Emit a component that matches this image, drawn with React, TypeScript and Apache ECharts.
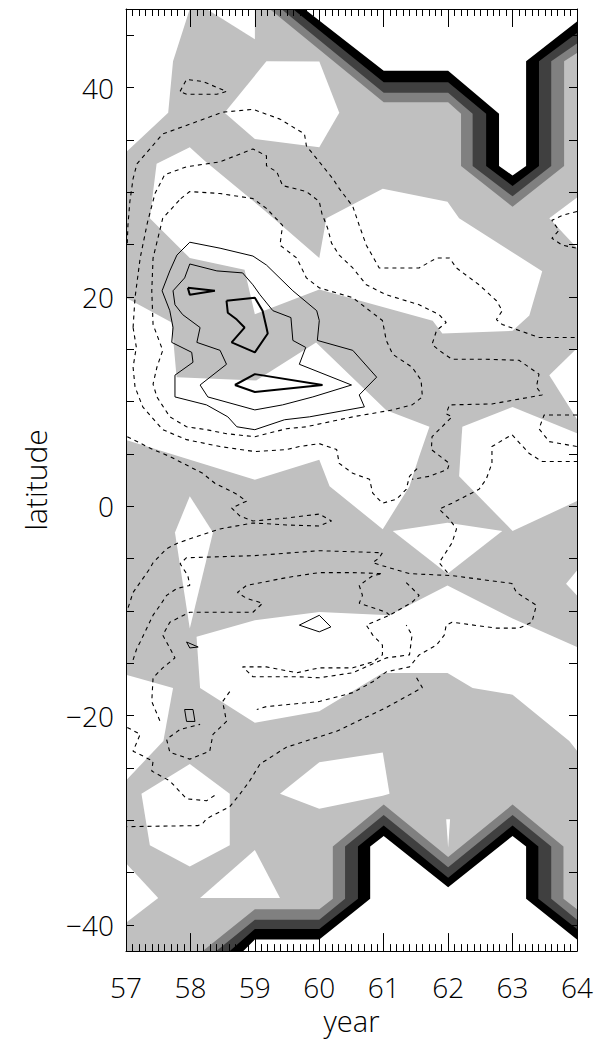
import React, { useEffect, useRef } from "react";
import * as echarts from "echarts";

// ---------- axes ----------
const YEAR_MIN = 57;
const YEAR_MAX = 64;
const LAT_MIN = -42.5;
const LAT_MAX = 47.5;
const LAT_TICKS = [-40, -35, -30, -25, -20, -15, -10, -5, 0, 5, 10, 15, 20, 25, 30, 35, 40, 45];
const LAT_LABELS = [-40, -20, 0, 20, 40];

// ---------- shading: white regions on light grey ----------
const W1 = [[57, 47.5], [57.99, 47.5], [57.73, 42.5], [57.655, 37.6], [57, 33.82]];
const W2 = [[58.25, 47.5], [59, 47.5], [59, 44.6]];
const W3 = [[59.18, 42.5], [60.0, 42.48], [60.31, 37.6], [60.0, 34.3], [59.0, 35.08], [58.53, 37.6]];
const WB = [[57.99, 34.3], [58.22, 33.0], [59.15, 28.26], [60.0, 23.71], [60.11, 27.5], [60.985, 30.34], [61.99, 29.08], [62.17, 27.5], [63.46, 22.45], [63.26, 18.21], [63.0, 16.76], [61.91, 16.5], [61.76, 17.71], [60.0, 20.7], [59.0, 18.33], [58.84, 22.6], [57.99, 23.71], [57.37, 27.5], [57.475, 32.71]];
const W5B = [[63.57, 27.5], [64, 29.5], [64, 24.66]];
const W6 = [[57, 19.92], [57.71, 17.55], [57.785, 12.33], [59.02, 12.02], [59.95, 15.65], [61.04, 9.18], [61.71, 7.59], [61.55, 4.75], [61.4, 1.91], [60.985, -2.2], [60.16, 1.91], [60.0, 4.44], [59.0, 2.54], [57, 6.33]];
const W8 = [[62.22, 7.59], [63.0, 9.49], [64, 6.96], [64, 0.49], [63.0, -2.36], [62.17, 2.86]];
const WRT = [[63.57, 12.5], [64, 15.1], [64, 8.3]];
const W9 = [[61.14, -2.36], [61.99, -1.57], [62.84, -2.36], [61.99, -6.46]];
const WNEEDLE = [[57.99, 0.96], [58.35, -2.52], [57.99, -11.68], [57.76, -2.52]];
const WRN = [[63.83, -7.41], [64, -6.15], [64, -8.52]];
const W10 = [[58.095, -12.47], [59.0, -10.89], [60.0, -10.1], [61.09, -10.42], [61.99, -7.57], [63.0, -10.73], [64, -13.45], [64, -23.37], [63.88, -22.42], [63.0, -18.0], [62.38, -17.36], [61.99, -15.94], [60.985, -15.94], [60.0, -19.58], [59.0, -20.68], [58.15, -17.36]];
const W11 = [[57, -16.1], [57.73, -17.36], [57.58, -22.42], [57, -26.21]];
const W12 = [[57.99, -24.63], [58.61, -27.48], [58.61, -32.38], [57.99, -34.42], [57.37, -32.38], [57.24, -27.48]];
const W13 = [[59.39, -27.48], [60.0, -24.47], [60.985, -23.52], [61.09, -27.48], [60.985, -27.67], [60.0, -28.9]];
const W14 = [[59.0, -32.85], [59.39, -37.43], [58.15, -37.43]];
const W15 = [[57, -34.11], [57.5, -37.43], [57, -39.8]];
const WHITE_REGIONS = [W1, W2, W3, WB, W5B, W6, W8, WRT, W9, WNEEDLE, WRN, W10, W11, W12, W13, W14, W15];

// ---------- polar bands (filled levels) ----------
const TOP_CORNER = [64, 47.5];
const TOP_B0 = [[59.23, 47.5], [61.0, 38.6], [62.0, 38.6], [62.2, 37.5], [62.2, 32.5], [63.0, 28.6], [63.8, 32.5], [63.8, 42.5], [64, 43.3]];
const TOP_B1 = [[59.41, 47.5], [61.0, 39.5], [62.0, 39.5], [62.38, 37.5], [62.38, 32.5], [63.0, 29.6], [63.6, 32.5], [63.6, 42.5], [64, 44.2]];
const TOP_B2 = [[59.59, 47.5], [61.0, 40.5], [62.0, 40.5], [62.59, 37.5], [62.59, 32.5], [63.0, 30.6], [63.41, 32.5], [63.41, 42.5], [64, 45.2]];
const TOP_B3 = [[59.77, 47.5], [61.0, 41.6], [62.0, 41.6], [62.79, 37.5], [62.79, 32.5], [63.0, 31.6], [63.21, 32.5], [63.21, 42.5], [64, 46.3]];
const BOT_CORNER = [64, -42.5];
const BOT_B0 = [[58.19, -42.5], [59.0, -38.5], [60.0, -38.5], [60.21, -37.5], [60.21, -32.5], [61.0, -28.5], [62.0, -33.5], [63.0, -28.5], [63.79, -32.5], [63.79, -37.5], [64, -38.5]];
const BOT_B1 = [[58.4, -42.5], [59.0, -39.5], [60.0, -39.5], [60.4, -37.5], [60.4, -32.5], [61.0, -29.5], [62.0, -34.5], [63.0, -29.5], [63.6, -32.5], [63.6, -37.5], [64, -39.5]];
const BOT_B2 = [[58.61, -42.5], [59.0, -40.4], [60.0, -40.4], [60.6, -37.5], [60.6, -32.5], [61.0, -30.5], [62.0, -35.5], [63.0, -30.5], [63.4, -32.5], [63.4, -37.5], [64, -40.4]];
const BOT_B3 = [[58.82, -42.5], [59.0, -41.4], [60.0, -41.4], [60.79, -37.5], [60.79, -32.5], [61.0, -31.5], [62.0, -36.4], [63.0, -31.5], [63.21, -32.5], [63.21, -37.5], [64, -41.4]];
const SPIKE = [[61.97, -29.9], [62.03, -29.9], [62.0, -32.6]];
const LEVEL_COLORS = ["#808080", "#404040", "#000000", "#ffffff"];

// ---------- solid contours ----------
const S1 = [[57.99, 25.22], [58.46, 24.65], [58.97, 23.9], [59.18, 23.04], [59.59, 20.58], [59.96, 18.68], [60.0, 17.74], [59.97, 15.84], [60.52, 14.89], [60.89, 12.33], [60.62, 10.63], [60.7, 9.49], [59.85, 8.54], [59.46, 8.26], [59.0, 7.31], [58.72, 7.59], [58.58, 8.54], [58.25, 9.68], [57.76, 10.44], [57.76, 12.52], [58.04, 13.75], [58.02, 14.7], [57.71, 15.65], [57.73, 17.07], [57.68, 18.68], [57.56, 20.58], [57.68, 22.48], [57.79, 23.99]];
const S2 = [[57.99, 23.14], [58.41, 22.48], [58.81, 22.29], [58.97, 21.15], [59.08, 20.2], [59.28, 18.68], [59.56, 18.02], [59.59, 15.84], [59.79, 15.17], [59.69, 13.56], [60.5, 11.58], [59.9, 10.44], [59.43, 9.68], [59.0, 9.2], [58.27, 10.44], [58.15, 11.58], [58.56, 13.56], [58.46, 14.89], [58.1, 15.65], [58.15, 17.07], [57.88, 18.3], [57.76, 19.25], [57.73, 20.58], [57.91, 21.81]];
const T1 = [[57.96, 20.86], [58.38, 20.58], [57.99, 20.2]];
const T2 = [[58.56, 19.63], [59.0, 19.92], [59.12, 18.68], [59.18, 17.07], [59.2, 16.5], [59.0, 14.7], [58.64, 15.65], [58.84, 17.07], [58.72, 17.83], [58.58, 18.49]];
const T3 = [[58.69, 11.58], [59.0, 12.62], [60.05, 11.58], [59.0, 10.91]];
const P1 = [[60.0, -10.42], [60.18, -11.53], [60.0, -12.0], [59.69, -11.36]];
const P2 = [[57.94, -12.97], [58.12, -13.45], [57.99, -13.54]];
const P3 = [[57.91, -19.42], [58.04, -19.42], [58.07, -20.56], [57.94, -20.56]];

// ---------- dashed contours ----------
const DA = [[57.84, 39.63], [57.94, 40.77], [58.19, 40.58], [58.56, 39.63], [58.41, 39.35], [57.94, 39.35], [57.84, 39.63]];
const DB = [[57.02, 25.13], [57.03, 26.83], [57.06, 29.11], [57.11, 31.29], [57.17, 32.71], [57.57, 35.56], [58.5, 37.64], [58.97, 37.92], [59.39, 36.98], [59.77, 35.56], [59.8, 34.42], [60.05, 32.52], [60.21, 31.29], [60.31, 30.34], [60.52, 28.64], [60.62, 26.83], [60.73, 24.94], [60.93, 22.76], [61.55, 22.76], [61.82, 23.71], [62.02, 23.71], [62.13, 22.76], [62.48, 21.15], [62.75, 19.63], [62.84, 18.68], [62.75, 17.83], [62.84, 17.36], [63.41, 16.12], [64.0, 16.12]];
const DC = [[57.11, 17.07], [57.14, 19.92], [57.22, 23.71], [57.33, 27.03], [57.45, 29.87], [57.6, 31.67], [57.94, 32.43], [58.46, 32.9], [58.97, 34.13], [59.18, 33.47], [59.18, 32.52], [59.34, 31.95], [59.43, 30.63], [59.8, 30.06], [60.0, 29.11], [60.04, 27.97], [60.13, 26.55], [60.19, 25.13], [60.31, 23.99], [60.52, 22.76], [60.73, 21.15], [61.04, 20.2], [61.55, 19.25], [61.86, 18.3], [61.97, 17.55], [61.82, 16.79], [61.75, 15.46], [61.86, 14.89], [62.06, 14.04], [62.59, 14.04], [63.1, 13.94], [63.41, 12.62], [63.37, 11.39], [63.46, 10.63], [62.68, 9.77], [62.02, 9.68], [61.97, 8.82], [62.06, 8.54], [61.75, 6.64], [61.74, 5.41], [62.02, 4.09], [61.99, 3.52], [61.71, 2.86], [61.44, 2.57]];
const DD = [[57.85, 29.39], [57.99, 30.06], [58.46, 29.87], [58.97, 29.39], [59.18, 28.45], [59.43, 26.83], [59.39, 24.94], [59.65, 23.71], [59.8, 21.81], [60.0, 20.86], [60.52, 19.92], [60.98, 17.74], [61.04, 15.84], [61.14, 14.51], [61.44, 13.28], [61.58, 12.05], [61.6, 10.44], [61.44, 9.68], [61.14, 9.2], [60.52, 8.54], [59.8, 7.59], [59.49, 7.4], [59.0, 6.64], [58.56, 6.93], [58.25, 7.31], [57.94, 7.59], [57.68, 8.54], [57.48, 10.44], [57.42, 11.67], [57.48, 13.28], [57.57, 14.89], [57.42, 17.36], [57.4, 20.58], [57.42, 23.71], [57.57, 27.5], [57.85, 29.39]];
const DE = [[57.11, 17.07], [57.16, 15.2], [57.11, 13.28], [57.14, 11.39], [57.26, 9.49], [57.57, 7.31], [57.94, 6.36], [58.46, 5.7], [59.0, 5.22], [59.49, 5.41], [59.69, 5.7], [60.0, 5.98], [60.27, 5.41], [60.31, 4.09], [60.52, 3.14], [60.78, 2.57], [60.83, 1.24], [60.98, 0.29], [61.2, 0.67], [61.35, 1.62], [61.4, 2.86], [61.55, 3.8]];
const DF = [[57.02, 6.64], [57.42, 5.41], [57.68, 4.75], [58.19, 3.14], [58.38, 2.19], [58.72, 1.15], [58.87, 0.48], [58.64, -0.18], [58.77, -0.94], [58.97, -1.41], [59.49, -1.13], [60.0, -0.75], [60.19, -1.41], [60.0, -1.89], [59.49, -1.79], [58.97, -1.6], [58.46, -2.17], [58.04, -3.02], [57.81, -3.5], [57.63, -4.06], [57.42, -5.4], [57.37, -5.96], [57.11, -8.24], [57.03, -9.75]];
const DG = [[57.11, -14.68], [57.17, -13.54], [57.22, -12.97], [57.42, -10.41], [57.53, -9.46], [57.63, -8.52], [57.79, -7.86], [57.99, -7.57], [57.96, -6.63], [57.84, -5.49], [57.94, -4.92], [58.97, -4.73], [60.0, -4.25], [60.98, -4.44], [60.93, -4.92], [60.83, -5.4], [60.98, -5.68], [61.4, -6.44], [62.06, -6.63], [62.99, -7.38], [63.06, -8.24], [63.37, -9.46], [63.3, -11.08], [63.1, -11.65], [62.75, -11.65], [62.06, -11.08], [61.97, -11.36], [61.94, -12.31], [61.82, -13.26], [61.55, -14.2], [61.4, -15.35], [61.04, -15.82], [60.83, -16.77], [60.52, -17.81], [60.0, -18.66], [59.18, -19.14], [59.03, -19.42]];
const DI = [[61.09, -10.41], [61.04, -10.13], [60.62, -9.27], [60.67, -8.52], [60.62, -7.57], [60.83, -6.63], [60.98, -6.44], [60.52, -6.34], [60.0, -6.34], [59.49, -6.82], [58.87, -7.57], [58.73, -8.24], [58.87, -8.8], [59.12, -9.27], [58.97, -10.13], [57.99, -10.13], [57.68, -11.08], [57.57, -12.31], [57.68, -13.54], [57.76, -14.49], [57.57, -15.44], [57.42, -16.39], [57.4, -18.66], [57.53, -20.56]];
const DJ = [[61.35, -7.29], [61.55, -8.52], [61.44, -9.18], [61.09, -10.41], [60.73, -11.36], [60.83, -12.31], [60.98, -13.26], [60.98, -14.2], [60.83, -14.87], [60.52, -15.44], [60.0, -15.44], [59.65, -15.91], [59.18, -15.35], [58.81, -15.35], [58.97, -16.29], [59.65, -16.29], [60.0, -16.39], [60.52, -15.91], [61.04, -14.49], [61.4, -14.2], [61.44, -12.31], [61.35, -11.36]];
const DK = [[61.51, -16.39], [61.6, -17.33], [61.04, -19.23], [60.27, -21.5], [59.49, -23.02], [59.08, -24.63], [58.92, -26.24], [58.77, -27.48], [58.61, -28.71], [58.25, -29.85], [58.19, -30.32], [58.12, -30.51], [57.02, -30.61]];
const DL = [[58.61, -17.71], [58.5, -18.66], [58.56, -20.56], [58.35, -21.79], [58.3, -23.4], [57.99, -24.16], [57.68, -23.5], [57.63, -22.26], [57.84, -21.32], [58.15, -20.84]];
const DM = [[57.02, -21.13], [57.22, -21.79], [57.11, -23.4], [57.42, -24.35], [57.4, -25.3], [57.68, -26.24], [57.94, -27.95], [58.25, -28.14], [58.41, -27.48]];
const DO = [[64, 28.16], [63.77, 27.78], [63.61, 27.31], [63.72, 26.36], [63.61, 25.6], [63.77, 24.94], [64, 24.65]];
const DP = [[64, 8.72], [63.49, 8.72], [63.41, 7.4], [63.57, 6.17], [64, 5.7]];
const DQ = [[61.99, -6.34], [61.86, -5.4], [62.06, -3.5], [62.13, -2.17], [62.02, -1.23], [61.86, -0.28], [62.06, 0.29], [62.48, 1.62], [62.59, 2.57], [62.68, 4.09], [62.68, 5.7], [62.99, 6.84], [63.26, 5.03], [63.46, 4.27], [64, 4.27]];
const DASHED = [DA, DB, DC, DD, DE, DF, DG, DI, DJ, DK, DL, DM, DO, DP, DQ];

const FONT = "'Open Sans', 'Liberation Sans', Arial, sans-serif";

function close(pts: number[][]) {
  return [...pts, pts[0]];
}

function polygonSeries(polys: number[][][], fills: string[]) {
  return {
    type: "custom",
    coordinateSystem: "cartesian2d",
    xAxisIndex: 0,
    yAxisIndex: 0,
    silent: true,
    clip: true,
    z: 2,
    data: polys.map((p) => [p[0][0], p[0][1]]),
    encode: { x: 0, y: 1 },
    renderItem: (params: any, api: any) => ({
      type: "polygon",
      shape: { points: polys[params.dataIndex].map((pt) => api.coord(pt)) },
      style: { fill: fills[params.dataIndex], stroke: null },
    }),
  };
}

function lineSeries(pts: number[][], style: any) {
  return {
    type: "line",
    xAxisIndex: 0,
    yAxisIndex: 0,
    data: pts,
    showSymbol: false,
    symbol: "none",
    silent: true,
    clip: true,
    z: 4,
    lineStyle: style,
  };
}

export default function App() {
  const ref = useRef<HTMLDivElement>(null);
  useEffect(() => {
    document.body.style.margin = "0";
    if (!ref.current) return;
    const chart = echarts.init(ref.current, undefined, { renderer: "svg" });

    const bandPolys = [
      [...TOP_B0, TOP_CORNER], [...TOP_B1, TOP_CORNER], [...TOP_B2, TOP_CORNER], [...TOP_B3, TOP_CORNER],
      [...BOT_B0, BOT_CORNER], [...BOT_B1, BOT_CORNER], [...BOT_B2, BOT_CORNER], [...BOT_B3, BOT_CORNER],
      SPIKE,
    ];
    const bandFills = [...LEVEL_COLORS, ...LEVEL_COLORS, "#ffffff"];

    const dashStyle = { color: "#000", width: 1.1, type: [4, 4] };
    const thin = { color: "#000", width: 1 };
    const thick = { color: "#000", width: 2 };

    const series: any[] = [
      polygonSeries(WHITE_REGIONS, WHITE_REGIONS.map(() => "#ffffff")),
      polygonSeries(bandPolys, bandFills),
      ...DASHED.map((d) => lineSeries(d, dashStyle)),
      lineSeries(close(S1), thin),
      lineSeries(close(S2), thin),
      ...[T1, T2, T3].map((t) => lineSeries(close(t), thick)),
      ...[P1, P2, P3].map((t) => lineSeries(close(t), thin)),
    ];

    const xCommon = {
      type: "value",
      min: YEAR_MIN,
      max: YEAR_MAX,
      interval: 1,
      z: 10,
      splitLine: { show: false },
      axisLine: { show: true, onZero: false, lineStyle: { color: "#000", width: 1 } },
      axisTick: { show: true, inside: true, length: 18, lineStyle: { color: "#000", width: 1 } },
      minorTick: { show: true, splitNumber: 10, length: 7, lineStyle: { color: "#000", width: 1 } },
      minorSplitLine: { show: false },
    };
    const yCommon = {
      type: "value",
      min: LAT_MIN,
      max: LAT_MAX,
      z: 10,
      splitLine: { show: false },
      axisLine: { show: true, onZero: false, lineStyle: { color: "#000", width: 1 } },
      axisTick: { show: true, inside: true, length: 8, customValues: LAT_TICKS, lineStyle: { color: "#000", width: 1 } },
    };

    chart.setOption({
      animation: false,
      backgroundColor: "#ffffff",
      grid: { left: 126, right: 20, top: 9, bottom: 83, show: true, backgroundColor: "#c0c0c0", borderWidth: 0 },
      xAxis: [
        {
          ...xCommon,
          position: "bottom",
          axisLabel: { show: true, fontSize: 28, fontWeight: 300, fontFamily: FONT, color: "#000", margin: 22 },
          name: "year",
          nameLocation: "middle",
          nameGap: 50,
          nameTextStyle: { fontSize: 29, fontWeight: 300, fontFamily: FONT, color: "#000" },
        },
        { ...xCommon, position: "top", axisLabel: { show: false } },
      ],
      yAxis: [
        {
          ...yCommon,
          position: "left",
          axisLabel: {
            show: true,
            customValues: LAT_LABELS,
            fontSize: 28,
            fontWeight: 300,
            fontFamily: FONT,
            color: "#000",
            margin: 12,
            formatter: (v: number) => (v < 0 ? "\u2212" + String(-v) : String(v)),
          },
          name: "latitude",
          nameLocation: "middle",
          nameRotate: 90,
          nameGap: 76,
          nameTextStyle: { fontSize: 30, fontWeight: 300, fontFamily: FONT, color: "#000" },
        },
        { ...yCommon, position: "right", axisLabel: { show: false } },
      ],
      series,
    });
    return () => chart.dispose();
  }, []);
  return <div ref={ref} style={{ width: 597, height: 1040 }} />;
}
